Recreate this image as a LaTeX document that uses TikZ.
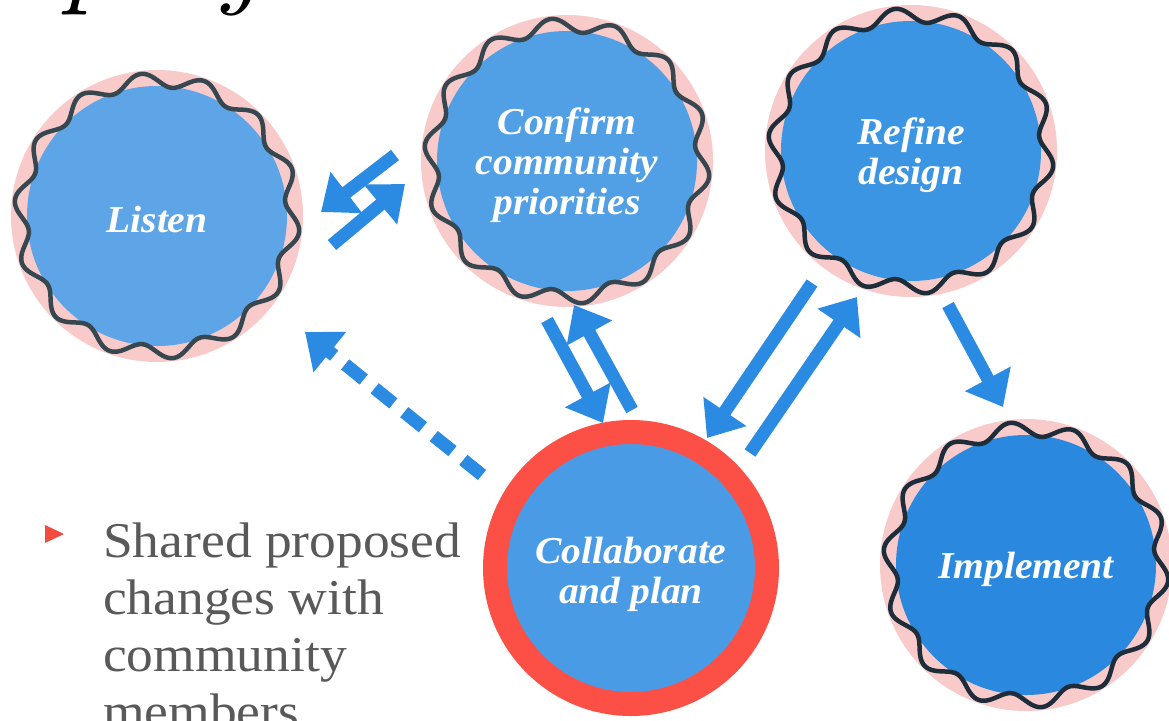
\documentclass[tikz,border=0pt]{standalone}
\usepackage{fontspec}
\usetikzlibrary{arrows.meta}
\newfontfamily\labelfont[FakeStretch=1.04]{Liberation Serif}
\newfontfamily\bodyfont[FakeStretch=1.07]{Liberation Serif}
\definecolor{pinkring}{HTML}{F9CACA}
\definecolor{waveA}{HTML}{37474F}
\definecolor{waveB}{HTML}{1E2D3A}
\definecolor{arrowblue}{HTML}{2B8AE2}
\definecolor{redring}{HTML}{FC4F46}
\definecolor{textgray}{HTML}{595959}
\definecolor{bulletred}{HTML}{F44B3F}
\definecolor{listenblue}{HTML}{5DA5E7}
\definecolor{confirmblue}{HTML}{519FE4}
\definecolor{refineblue}{HTML}{3C95E2}
\definecolor{implblue}{HTML}{2A88DF}
\definecolor{collabblue}{HTML}{4A9BE5}
\newcommand{\mywave}[3]{%
  \draw[wave line,#3] plot[domain=0:360,samples=361,variable=\t]
    ({#1+(136+7*sin(14*\t))*cos(\t)},{#2+(136+7*sin(14*\t))*sin(\t)}) -- cycle;}
\begin{document}
\begin{tikzpicture}[x=1pt,y=-1pt,
  ring/.style={circle, fill=pinkring, minimum size=292pt, inner sep=0pt},
  stage/.style={circle, minimum size=260pt, inner sep=0pt, text=white, align=center,
    font=\labelfont\bfseries\itshape\fontsize{38}{40}\selectfont},
  wave line/.style={line width=4.5pt, line join=round},
  flow/.style={draw=arrowblue, line width=13pt, -{Triangle[length=32pt,width=50pt]}},
  dashflow/.style={flow, dash pattern=on 24pt off 14pt},
]
\path[use as bounding box, clip] (0,0) rectangle (1169,720);
\fill[white] (0,0) rectangle (1169,720);

% title remnant
\node[anchor=base west, inner sep=0pt, font=\itshape\fontsize{121}{121}\selectfont] (title) at (60,-9) {project};

% Listen
\node[ring] (listenring) at (157,216) {};
\node[stage, fill=listenblue] (listen) at (157,216) {};
\node[text=white, font=\labelfont\bfseries\itshape\fontsize{38}{40}\selectfont] (listentext) at (157,219) {Listen};
\mywave{157}{216}{waveA}

% Confirm
\node[ring] (confirmring) at (567,161) {};
\node[stage, fill=confirmblue] (confirm) at (567,161) {};
\node[stage] (confirmtext) at (567,165) {Confirm\\community\\priorities};
\mywave{567}{161}{waveA}

% Refine
\node[ring] (refinering) at (911,151) {};
\node[stage, fill=refineblue] (refine) at (911,151) {};
\node[stage] (refinetext) at (911,155) {Refine\\design};
\mywave{911}{151}{waveB}

% Implement
\node[ring] (implring) at (1026,565) {};
\node[stage, fill=implblue] (implement) at (1026,565) {};
\node[stage] (impltext) at (1026,569) {Implement};
\mywave{1026}{565}{waveB}

% Collaborate
\node[stage, fill=collabblue, draw=redring, line width=24pt, minimum size=272pt] (collab) at (631,568) {};
\node[stage] (collabtext) at (631,574) {Collaborate\\and plan};

% arrows
\coordinate (a1s) at (395,155); \coordinate (a1e) at (321,212);
\coordinate (a2s) at (332,245); \coordinate (a2e) at (405,184);
\coordinate (a4s) at (547,320); \coordinate (a4e) at (603,423);
\coordinate (a5s) at (632,410); \coordinate (a5e) at (574,305);
\coordinate (a6s) at (812,283); \coordinate (a6e) at (707,438);
\coordinate (a7s) at (750,453); \coordinate (a7e) at (857,297);
\coordinate (a8s) at (948,305); \coordinate (a8e) at (1003,407);
\coordinate (d1s) at (482,475); \coordinate (d1e) at (305,332);
\draw[flow] (a1s) -- (a1e);
\draw[flow] (a2s) -- (a2e);
\draw[flow] (a4s) -- (a4e);
\draw[flow] (a5s) -- (a5e);
\draw[flow] (a6s) -- (a6e);
\draw[flow] (a7s) -- (a7e);
\draw[flow] (a8s) -- (a8e);
\draw[dashflow] (d1s) -- (d1e);

% bullet
\fill[bulletred] (45,525) -- (45,543) -- (64,534) -- cycle;
\node[anchor=base west, inner sep=0pt, align=left, text=textgray,
  font=\bodyfont\fontsize{50}{57}\selectfont] (bullettext) at (103,728)
  {Shared proposed\\changes with\\community\\members};
\end{tikzpicture}
\end{document}
